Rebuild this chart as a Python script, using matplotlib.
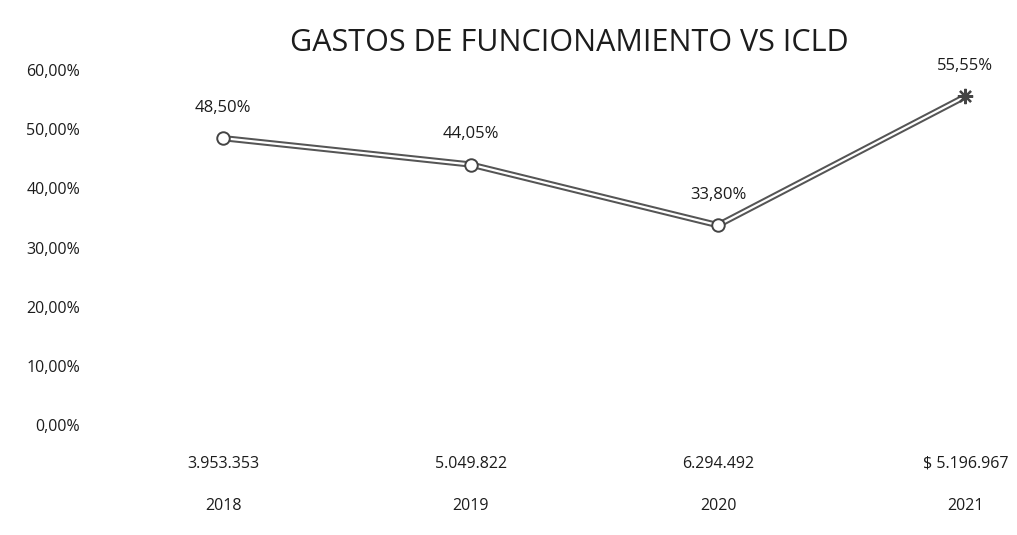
import matplotlib.pyplot as plt
import matplotlib.transforms as mtransforms

# datos
years = ["2018", "2019", "2020", "2021"]
icld = ["3.953.353", "5.049.822", "6.294.492", "$ 5.196.967"]
pct = [48.50, 44.05, 33.80, 55.55]
pct_labels = ["48,50%", "44,05%", "33,80%", "55,55%"]
yticks = [0, 10, 20, 30, 40, 50, 60]

plt.rcParams['font.family'] = ['Open Sans', 'DejaVu Sans']
ink = "#1c1c1c"

fig = plt.figure(figsize=(10.17, 5.35), dpi=100)
ax = fig.add_axes([0.098, 0.205, 0.895, 0.664])

x = list(range(len(years)))

# doble trazo: linea oscura con nucleo blanco
ax.plot(x, pct, color="#555555", lw=4.5, solid_capstyle="round", zorder=2)
ax.plot(x, pct, color="white", lw=1.6, zorder=3)
ax.plot(x[:3], pct[:3], "o", ms=9, mfc="white", mec="#444444", mew=1.4, zorder=4)
ax.plot(x[3], pct[3], marker=(8, 2, 0), ms=11, color="#444444", mew=1.6, zorder=4)

for xi, v, lab in zip(x, pct, pct_labels):
    ax.annotate(lab, (xi, v), xytext=(0, 16), textcoords="offset points",
                ha="center", va="bottom", fontsize=12, color=ink)

ax.set_ylim(0, 60)
ax.set_xlim(-0.5, 3.18)
ax.set_yticks(yticks)
ax.set_yticklabels([f"{t},00%" for t in yticks], fontsize=11.5, color=ink)
ax.set_xticks(x)
ax.set_xticklabels(years, fontsize=11.5, color=ink)
ax.tick_params(axis="x", length=0, pad=52)
ax.tick_params(axis="y", length=0, pad=14)

# montos bajo cada año
trans = mtransforms.blended_transform_factory(ax.transData, ax.transAxes)
for xi, m in zip(x, icld):
    ax.text(xi, -0.085, m, transform=trans, ha="center", va="top",
            fontsize=11.5, color=ink)

for s in ax.spines.values():
    s.set_visible(False)

fig.text(0.56, 0.92, "GASTOS DE FUNCIONAMIENTO VS ICLD", ha="center",
         va="center", fontsize=22, color=ink)

fig.savefig("out.png", dpi=100)
